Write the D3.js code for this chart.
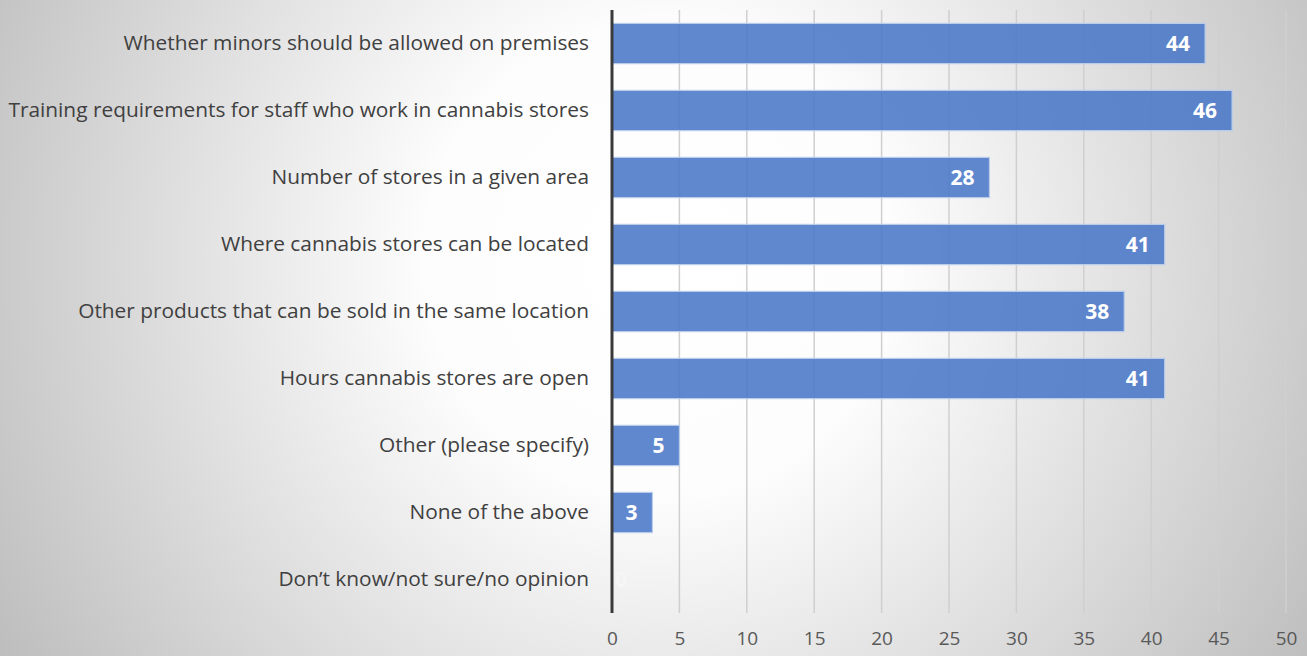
<!DOCTYPE html>
<html>
<head>
<meta charset="utf-8">
<script src="https://cdn.jsdelivr.net/npm/d3@7"></script>
<style>
  html, body { margin: 0; padding: 0; background: #fff; }
  svg { display: block; }
</style>
</head>
<body>
<svg id="chart" width="1307" height="656"></svg>
<script>
// Survey responses: which store rules people want a say on
const categories = [
  "Whether minors should be allowed on premises",
  "Training requirements for staff who work in cannabis stores",
  "Number of stores in a given area",
  "Where cannabis stores can be located",
  "Other products that can be sold in the same location",
  "Hours cannabis stores are open",
  "Other (please specify)",
  "None of the above",
  "Don\u2019t know/not sure/no opinion"
];
const values = [44, 46, 28, 41, 38, 41, 5, 3, 0];
const tickValues = [0, 5, 10, 15, 20, 25, 30, 35, 40, 45, 50];

const W = 1307, H = 656;
const margin = { top: 10, right: 21, bottom: 43, left: 612 };
const FONT = "'Open Sans', 'Noto Sans', sans-serif";
const svg = d3.select("#chart");

// Soft radial backdrop
const defs = svg.append("defs");
const grad = defs.append("radialGradient")
  .attr("id", "bg")
  .attr("gradientUnits", "userSpaceOnUse")
  .attr("cx", 660).attr("cy", 260).attr("r", 780);
grad.append("stop").attr("offset", "0%").attr("stop-color", "#ffffff");
grad.append("stop").attr("offset", "30%").attr("stop-color", "#fdfdfd");
grad.append("stop").attr("offset", "100%").attr("stop-color", "#bcbcbc");
svg.append("rect").attr("width", W).attr("height", H).attr("fill", "url(#bg)");

const x = d3.scaleLinear().domain([0, 50]).range([margin.left, W - margin.right]);
const y = d3.scaleBand().domain(categories)
  .range([margin.top, H - margin.bottom]).paddingInner(0.4).paddingOuter(0.2);

// Vertical gridlines
svg.append("g")
  .selectAll("line")
  .data(tickValues.filter(d => d > 0))
  .join("line")
  .attr("x1", d => x(d)).attr("x2", d => x(d))
  .attr("y1", margin.top).attr("y2", H - margin.bottom)
  .attr("stroke", "#cfcfcf").attr("stroke-width", 1.5);

// Bars
svg.append("g")
  .selectAll("rect")
  .data(values.map((v, i) => ({ cat: categories[i], v })))
  .join("rect")
  .attr("x", x(0))
  .attr("y", d => y(d.cat))
  .attr("width", d => x(d.v) - x(0))
  .attr("height", y.bandwidth())
  .attr("fill", "#4a78c8")
  .attr("fill-opacity", 0.88)
  .attr("stroke", "#b9cdeb")
  .attr("stroke-width", 1.2);

// Value labels inside bar ends
svg.append("g")
  .selectAll("text")
  .data(values.map((v, i) => ({ cat: categories[i], v })))
  .join("text")
  .attr("x", d => d.v > 0 ? x(d.v) - 15 : x(0) + 15)
  .attr("y", d => y(d.cat) + y.bandwidth() / 2)
  .attr("dy", "0.36em")
  .attr("text-anchor", "end")
  .attr("font-family", FONT)
  .attr("font-weight", "bold")
  .attr("font-size", 21)
  .attr("fill", d => d.v > 0 ? "#ffffff" : "#f6f6f6")
  .text(d => d.v);

// Category axis (left), with a dark baseline
const yAxis = d3.axisLeft(y).tickSize(0).tickPadding(23);
const gy = svg.append("g").attr("transform", `translate(${x(0)},0)`).call(yAxis);
gy.select(".domain").remove();
const catText = gy.selectAll("text")
  .attr("font-family", FONT)
  .attr("font-size", 20)
  .attr("fill", "#404040");
// size the category font so the longest label spans the left gutter
let maxW = 0;
catText.each(function () { maxW = Math.max(maxW, this.getComputedTextLength()); });
const gutter = x(0) - 23 - 8;
catText.attr("font-size", 20 * gutter / maxW);

svg.append("line")
  .attr("x1", x(0)).attr("x2", x(0))
  .attr("y1", margin.top).attr("y2", H - margin.bottom)
  .attr("stroke", "#3a3a3a").attr("stroke-width", 3);

// Value axis (bottom)
const xAxis = d3.axisBottom(x).tickValues(tickValues).tickSize(0).tickPadding(19);
const gx = svg.append("g").attr("transform", `translate(0,${H - margin.bottom})`).call(xAxis);
gx.select(".domain").remove();
gx.selectAll("text")
  .attr("font-family", FONT)
  .attr("font-size", 19)
  .attr("fill", "#595959");
</script>
</body>
</html>
